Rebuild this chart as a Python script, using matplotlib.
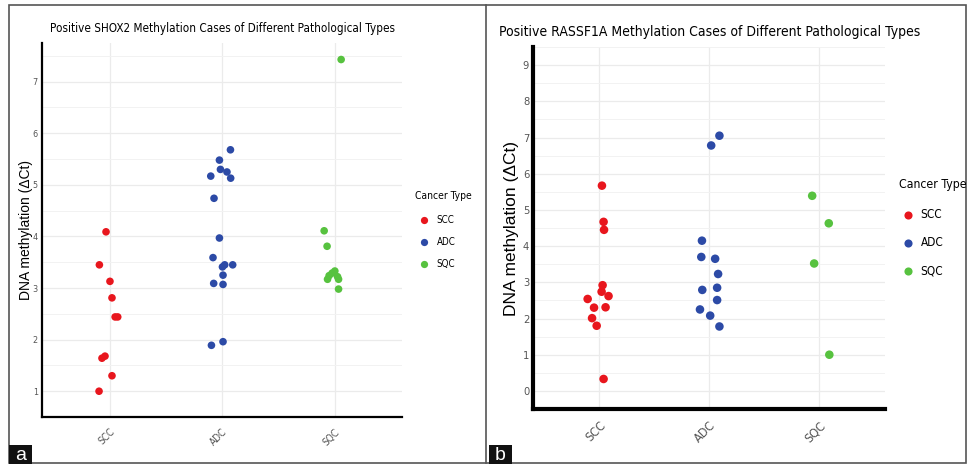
import numpy as np
import matplotlib
matplotlib.use('Agg')
from matplotlib import pyplot as plt
from matplotlib.patches import Rectangle
from matplotlib.lines import Line2D

types = ['SCC', 'ADC', 'SQC']
colors = {'SCC': '#E8161D', 'ADC': '#2C4AA6', 'SQC': '#57C23F'}

# panel a - SHOX2
shox2_scc = [4.09, 3.45, 3.13, 2.81, 2.44, 2.44, 1.64, 1.68, 1.30, 1.00]
shox2_scc_jit = [-0.031, -0.09, 0.004, 0.022, 0.05, 0.073, -0.067, -0.04, 0.022, -0.093]
shox2_adc = [5.68, 5.48, 5.17, 5.30, 5.25, 5.13, 4.74, 3.97, 3.59, 3.41, 3.45, 3.45, 3.25, 3.09, 3.07, 1.89, 1.96]
shox2_adc_jit = [0.075, -0.023, -0.1, -0.014, 0.044, 0.077, -0.071, -0.023, -0.08, 0.004, 0.024, 0.095,
                 0.009, -0.074, 0.009, -0.094, 0.009]
shox2_sqc = [7.43, 4.11, 3.81, 3.33, 3.29, 3.24, 3.17, 3.22, 3.17, 2.98]
shox2_sqc_jit = [0.059, -0.092, -0.066, 0.003, -0.021, -0.048, -0.062, 0.027, 0.036, 0.036]

# panel b - RASSF1A
rassf_scc = [5.67, 4.67, 4.45, 2.92, 2.74, 2.62, 2.54, 2.30, 2.31, 2.01, 1.80, 0.33]
rassf_scc_jit = [0.024, 0.039, 0.043, 0.03, 0.021, 0.084, -0.106, -0.048, 0.057, -0.066, -0.024, 0.039]
rassf_adc = [7.05, 6.78, 4.15, 3.70, 3.65, 3.23, 2.79, 2.85, 2.51, 2.25, 2.08, 1.78]
rassf_adc_jit = [0.093, 0.018, -0.066, -0.072, 0.054, 0.081, -0.063, 0.072, 0.072, -0.084, 0.009, 0.093]
rassf_sqc = [5.39, 4.63, 3.52, 1.00]
rassf_sqc_jit = [-0.063, 0.088, -0.045, 0.093]

narrow = dict(family='DejaVu Sans', stretch='condensed')
wide = dict(family=['Liberation Sans', 'DejaVu Sans'])

fig = plt.figure(figsize=(9.68, 4.65), dpi=100)


def panel(rect, data, ylim, yticks, title, tsize, tpad, lsize, xlsize, ylsize, s, spw,
          leg_xy, leg_dy, leg_fs, leg_tfs, ylab_x):
    ax = fig.add_axes(rect)
    for i, t in enumerate(types):
        vals, jit = data[t]
        x = np.array(jit) + i + 1
        ax.scatter(x, vals, s=s, color=colors[t], edgecolors='none', zorder=3)
    ax.set_xlim(0.4, 3.6)
    ax.set_ylim(*ylim)
    ax.set_yticks(yticks)
    ax.set_yticks(np.arange(yticks[0] - 0.5, yticks[-1] + 1, 1.0), minor=True)
    ax.set_xticks([1, 2, 3])
    ax.set_xticklabels(types, rotation=45, ha='right', rotation_mode='anchor',
                       color='#555555', fontsize=xlsize, **narrow)
    ax.set_yticklabels([str(v) for v in yticks], fontsize=lsize, color='#555555', **narrow)
    ax.tick_params(axis='y', length=0, pad=3)
    ax.tick_params(axis='x', length=0, pad=7)
    ax.tick_params(which='minor', length=0)
    ax.grid(True, which='major', color='#EBEBEB', lw=0.9, zorder=0)
    ax.grid(True, which='minor', axis='y', color='#F2F2F2', lw=0.7, zorder=0)
    for sp in ['top', 'right']:
        ax.spines[sp].set_visible(False)
    for sp in ['left', 'bottom']:
        ax.spines[sp].set_linewidth(spw)
        ax.spines[sp].set_color('black')
    ax.set_title(title, fontsize=tsize, pad=tpad, **narrow)
    fig.text(ylab_x, rect[1] + rect[3] / 2, 'DNA methylation (ΔCt)', rotation=90,
             ha='center', va='center', fontsize=ylsize, **wide)
    # legend
    lx, ly = leg_xy
    fig.text(lx, ly, 'Cancer Type', fontsize=leg_tfs, va='center', **narrow)
    for k, t in enumerate(types):
        yy = ly - leg_dy * (k + 1.1)
        fig.add_artist(Line2D([lx + 0.009], [yy], marker='o', ms=np.sqrt(s) * 0.95, color=colors[t],
                              mec='none', ls='none', transform=fig.transFigure))
        fig.text(lx + 0.022, yy, t, fontsize=leg_fs, va='center', **narrow)
    return ax


panel([0.0434, 0.1032, 0.3719, 0.8043],
      {'SCC': (shox2_scc, shox2_scc_jit), 'ADC': (shox2_adc, shox2_adc_jit), 'SQC': (shox2_sqc, shox2_sqc_jit)},
      (0.68, 7.75), list(range(1, 8)),
      'Positive SHOX2 Methylation Cases of Different Pathological Types',
      8.4, 8, 6.5, 7.2, 10, 30, 1.6, (0.429, 0.578), 0.047, 7.0, 7.4, 0.027)

panel([0.551, 0.1204, 0.3633, 0.7785],
      {'SCC': (rassf_scc, rassf_scc_jit), 'ADC': (rassf_adc, rassf_adc_jit), 'SQC': (rassf_sqc, rassf_sqc_jit)},
      (-0.45, 9.45), list(range(0, 10)),
      'Positive RASSF1A Methylation Cases of Different Pathological Types',
      10, 8, 8, 9, 12.5, 38, 3.0, (0.929, 0.604), 0.06, 8.5, 8.8, 0.528)

# frames
fig.add_artist(Rectangle((9 / 968, 1 - 463 / 465), 957 / 968, 458 / 465, transform=fig.transFigure,
                         fill=False, ec='#555555', lw=1.2))
fig.add_artist(Line2D([486 / 968, 486 / 968], [1 - 463 / 465, 1 - 5 / 465], color='#555555', lw=1.2,
                      transform=fig.transFigure))

# panel letters
for x0, letter in [(9, 'a'), (489, 'b')]:
    fig.add_artist(Rectangle((x0 / 968, 1 - 464 / 465), 23 / 968, 19 / 465, transform=fig.transFigure,
                             color='#111111', lw=0))
    fig.text((x0 + 11.5) / 968, 1 - 455 / 465, letter, color='white', fontsize=14,
             ha='center', va='center', **wide)

fig.savefig('out.png', dpi=100)
